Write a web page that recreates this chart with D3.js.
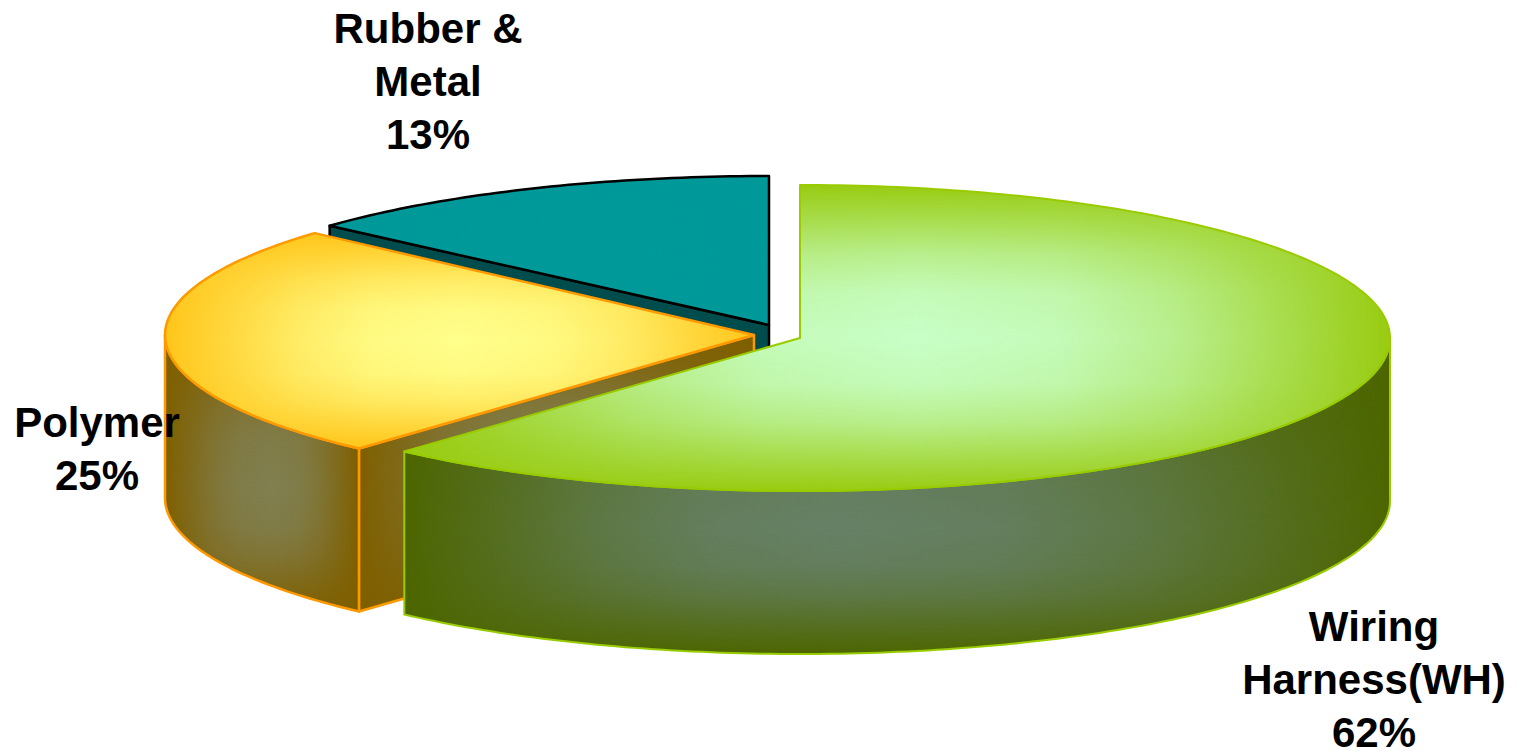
<!DOCTYPE html>
<html><head><meta charset="utf-8">
<style>html,body{margin:0;padding:0;background:#fff;overflow:hidden}svg{display:block}</style>
<script src="https://cdn.jsdelivr.net/npm/d3@7"></script></head>
<body><svg id="c" width="1519" height="751"></svg>
<script>
const categories = ["Wiring Harness(WH)", "Polymer", "Rubber & Metal"];
const shareValues = [61.7, 24.9, 13.4];
const shareLabels = ["62%", "25%", "13%"];
const labelLines = [["Wiring", "Harness(WH)"], ["Polymer"], ["Rubber &", "Metal"]];

const svg = d3.select("#c"), defs = svg.append("defs");
const DEPTH = 163;
const looks = [
  {cx:800, cy:338, rx:590, ry:153, stroke:"#99cc00", sw:2, edge:"#99cc11", light:"#c8ffc8", sideEdge:"#4d6600", sideLight:"#668066", lx:1374, ly:626, topF:[.52,.5], wallF:[.44,.6]},
  {cx:754, cy:335, rx:589, ry:153, stroke:"#ff9900", sw:2.5, edge:"#ffc61a", light:"#ffff8c", sideEdge:"#7f6000", sideLight:"#807f50", lx:97, ly:422, topF:[.5,.5], wallF:[.55,.55]},
  {cx:769, cy:325, rx:589, ry:149, stroke:"#000000", sw:2.5, edge:"#009999", light:"#009999", sideEdge:"#004d4d", sideLight:"#004d4d", lx:428, ly:28, topF:[.5,.5], wallF:[.5,.5]}
];
const arcs = d3.pie().sort(null).value(d => d)(shareValues);
const line = d3.line().x(d => d[0]).y(d => d[1]);

// Broad glow profile, from the edge of a face (0) to its focus (1)
const profile = [[0,0],[.2,.3],[.45,.68],[.7,.92],[1,1]];
function stops(grad, focus, colour) {
  const left = profile.map(([t,a]) => [t*focus, a]);
  const right = profile.slice(0,-1).reverse().map(([t,a]) => [1-t*(1-focus), a]);
  left.concat(right).forEach(([o,a]) =>
    grad.append("stop").attr("offset",o).attr("stop-color",colour).attr("stop-opacity",a));
}

let uid = 0;
function face(points, edge, light, stroke, sw, fx=.5, fy=.5) {
  const d = line(points) + "Z", id = "f" + (uid++);
  const xs = d3.extent(points, p => p[0]), ys = d3.extent(points, p => p[1]);
  const bx = xs[0], by = ys[0], bw = xs[1]-xs[0], bh = ys[1]-ys[0];
  stops(defs.append("linearGradient").attr("id", id+"h").attr("x1",0).attr("x2",1).attr("y1",0).attr("y2",0), fx, light);
  stops(defs.append("linearGradient").attr("id", id+"v").attr("x1",0).attr("x2",0).attr("y1",0).attr("y2",1), fy, "#fff");
  defs.append("clipPath").attr("id", id+"c").append("path").attr("d", d);
  const m = defs.append("mask").attr("id", id+"m").attr("maskUnits","userSpaceOnUse")
    .attr("x",bx).attr("y",by).attr("width",bw).attr("height",bh);
  m.append("rect").attr("x",bx).attr("y",by).attr("width",bw).attr("height",bh).attr("fill",`url(#${id}v)`);
  const g = svg.append("g");
  const inner = g.append("g").attr("clip-path", `url(#${id}c)`);
  inner.append("rect").attr("x",bx).attr("y",by).attr("width",bw).attr("height",bh).attr("fill",edge);
  inner.append("rect").attr("x",bx).attr("y",by).attr("width",bw).attr("height",bh)
    .attr("fill",`url(#${id}h)`).attr("mask",`url(#${id}m)`);
  g.append("path").attr("d",d).attr("fill","none").attr("stroke",stroke).attr("stroke-width",sw).attr("stroke-linejoin","round");
}

function project(k) {
  const L = looks[k];
  const x = d3.scaleLinear().domain([-1,1]).range([L.cx-L.rx, L.cx+L.rx]);
  const y = d3.scaleLinear().domain([-1,1]).range([L.cy-L.ry, L.cy+L.ry]);
  return a => [x(Math.sin(a)), y(-Math.cos(a))];
}
function rim(a0, a1, p) {
  const n = Math.max(2, Math.round((a1-a0)*60));
  return d3.range(n+1).map(i => p(a0 + (a1-a0)*i/n));
}
const down = pts => pts.map(q => [q[0], q[1]+DEPTH]);

function drawSlice(k) {
  const L = looks[k], a = arcs[k], p = project(k), apex = [L.cx, L.cy];
  if (k > 0) {
    const s = p(a.startAngle);
    face([s, apex, [apex[0],apex[1]+DEPTH], [s[0],s[1]+DEPTH]], L.sideEdge, L.sideLight, L.stroke, L.sw);
  }
  const w0 = Math.max(a.startAngle, Math.PI/2), w1 = Math.min(a.endAngle, 3*Math.PI/2);
  if (w1 > w0) {
    const top = rim(w0, w1, p);
    face(top.concat(down(top).reverse()), L.sideEdge, L.sideLight, L.stroke, L.sw, L.wallF[0], L.wallF[1]);
  }
  face([apex].concat(rim(a.startAngle, a.endAngle, p)), L.edge, L.light, L.stroke, L.sw, L.topF[0], L.topF[1]);
}
[2,1,0].forEach(drawSlice);

const text = svg.append("g").attr("font-family","'Liberation Sans',Arial,sans-serif")
  .attr("font-weight",700).attr("font-size",42).attr("fill","#000").attr("text-anchor","middle");
categories.forEach((c,k) => {
  labelLines[k].concat([shareLabels[k]]).forEach((t,i) =>
    text.append("text").attr("x",looks[k].lx).attr("y",looks[k].ly + i*53).attr("dy","0.36em").text(t));
});
</script></body></html>
